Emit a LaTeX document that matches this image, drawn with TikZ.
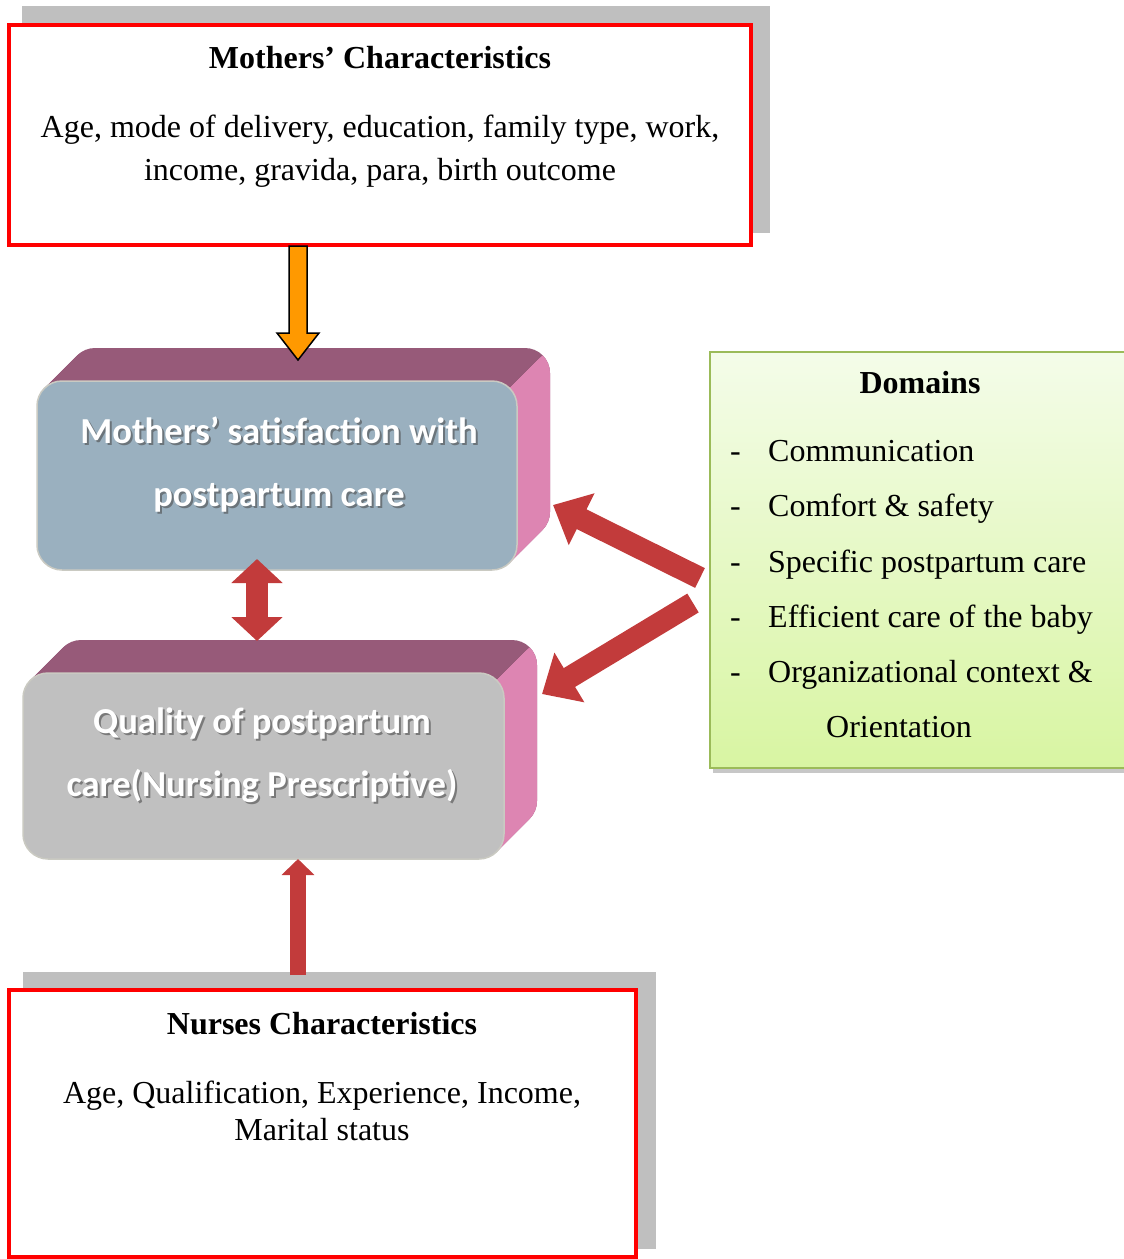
\documentclass[tikz,border=0pt]{standalone}
\usepackage{fontspec}
\setmainfont{Liberation Serif}
\newfontfamily\calib{Carlito}
\usetikzlibrary{arrows.meta,calc}
\definecolor{shadowgray}{HTML}{BFBFBF}
\definecolor{boxred}{HTML}{FF0000}
\definecolor{orangefill}{HTML}{FF9900}
\definecolor{topface}{HTML}{975A79}
\definecolor{sideface}{HTML}{DD85B2}
\definecolor{bluefront}{HTML}{9AB0BF}
\definecolor{grayfront}{HTML}{C0C0C0}
\definecolor{frontedge}{HTML}{CACAC2}
\definecolor{arrowred}{HTML}{C23B3B}
\definecolor{greentop}{HTML}{F4FCE9}
\definecolor{greenbot}{HTML}{D8F5A2}
\definecolor{greenedge}{HTML}{9BBB59}
\tikzset{
  redbox/.style={draw=boxred, line width=4pt, fill=white, inner sep=0pt},
  titlef/.style={inner sep=0pt, font=\fontsize{32}{38}\selectfont\bfseries},
  bodyf/.style={inner sep=0pt, align=center},
  frontbox/.style={draw=frontedge, line width=1.5pt, rounded corners=25pt, inner sep=0pt},
  whitetxt/.style={inner sep=0pt, align=center, text=white, font=\fontsize{36.6}{63}\selectfont\calib\bfseries},
  shadowtxt/.style={inner sep=0pt, align=center, text=black!70, opacity=0.6, font=\fontsize{36.6}{63}\selectfont\calib\bfseries},
  fatarrow/.style={line width=22pt, draw=arrowred},
  itemf/.style={inner sep=0pt, anchor=west, text height=22pt, text depth=7pt, font=\fontsize{32}{38}\selectfont},
}
\begin{document}
\begin{tikzpicture}[x=1pt,y=-1pt]
\useasboundingbox (0,0) rectangle (1124,1259);

% ---------- Mothers' characteristics box
\fill[shadowgray] (22,6) rectangle (770,233);
\node (mc) [redbox, minimum width=742pt, minimum height=220pt] at (380,135) {};
\node (mct) [titlef] at (380,58) {Mothers’ Characteristics};
\node (mcb) [bodyf, font=\fontsize{32}{43}\selectfont] at (380,151) {Age, mode of delivery, education, family type, work,\\income, gravida, para, birth outcome};

% ---------- 3D box 1
\foreach \i in {1,...,33} \fill[topface, rounded corners=25pt] (37+\i,381-\i) rectangle (517+\i,570-\i);
\begin{scope}
  \clip (480,418) -- (560,338) -- (640,338) -- (640,640) -- (480,640) -- cycle;
  \foreach \i in {1,...,33} \fill[sideface, rounded corners=25pt] (37+\i,381-\i) rectangle (517+\i,570-\i);
\end{scope}
\node (sat) [frontbox, fill=bluefront, minimum width=480pt, minimum height=189pt] at (277,475.5) {};
\node (sats) [shadowtxt] at (281,467) {Mothers’ satisfaction with\\postpartum care};
\node (satt) [whitetxt] at (279,465) {Mothers’ satisfaction with\\postpartum care};

% ---------- 3D box 2
\foreach \i in {1,...,33} \fill[topface, rounded corners=25pt] (23+\i,673-\i) rectangle (504+\i,859-\i);
\begin{scope}
  \clip (460,717) -- (540,637) -- (640,637) -- (640,940) -- (460,940) -- cycle;
  \foreach \i in {1,...,33} \fill[sideface, rounded corners=25pt] (23+\i,673-\i) rectangle (504+\i,859-\i);
\end{scope}
\node (qual) [frontbox, fill=grayfront, minimum width=481pt, minimum height=186pt] at (263.5,766) {};
\node (quals) [shadowtxt] at (264,757) {Quality of postpartum\\care(Nursing Prescriptive)};
\node (qualt) [whitetxt] at (262,755) {Quality of postpartum\\care(Nursing Prescriptive)};

% ---------- orange arrow
\coordinate (oa1) at (298,246);
\coordinate (oa2) at (298,360);
\draw[fill=orangefill, draw=black, line width=1.5pt, line join=miter]
  ($(oa1)+(-9,0)$) -- ($(oa2)+(-9,-27)$) -- ($(oa2)+(-21,-27)$) -- (oa2) --
  ($(oa2)+(21,-27)$) -- ($(oa2)+(9,-27)$) -- ($(oa1)+(9,0)$) -- cycle;

% ---------- double arrow
\coordinate (da1) at (257,559);
\coordinate (da2) at (257,641);
\draw[fatarrow, {Triangle[length=24pt,width=50pt]}-{Triangle[length=24pt,width=50pt]}] (da1) -- (da2);

% ---------- domains box
\fill[black!22] (713,357) rectangle (1130,773);
\node (dom) [draw=greenedge, line width=2pt, top color=greentop, bottom color=greenbot, minimum width=420pt, minimum height=416pt, inner sep=0pt] at (920,560) {};
\node (domt) [titlef] at (920,383) {Domains};
\foreach \y/\t [count=\k] in {454/Communication, 509/Comfort \& safety, 565/Specific postpartum care, 620/Efficient care of the baby, 675/Organizational context \&}{
  \node (dd\k) [itemf] at (730,\y) {-};
  \node (di\k) [itemf] at (768,\y) {\t};
}
\node (di6) [itemf] at (826,730) {Orientation};

% ---------- diagonal arrows
\coordinate (a1s) at (700,578);
\coordinate (a1e) at (553,505);
\coordinate (a2s) at (693,603);
\coordinate (a2e) at (542,694);
\draw[fatarrow, -{Triangle[length=32pt,width=56pt]}] (a1s) -- (a1e);
\draw[fatarrow, -{Triangle[length=32pt,width=56pt]}] (a2s) -- (a2e);

% ---------- nurses box
\fill[shadowgray] (23,972) rectangle (656,1249);
\node (nc) [redbox, minimum width=627pt, minimum height=267pt] at (322.5,1123.5) {};
\node (nct) [titlef] at (322,1024) {Nurses Characteristics};
\node (ncb) [bodyf, font=\fontsize{32}{37}\selectfont] at (322,1111) {Age, Qualification, Experience, Income,\\Marital status};

% ---------- up arrow
\coordinate (ua1) at (298,975);
\coordinate (ua2) at (298,859);
\draw[line width=16pt, draw=arrowred, -{Triangle[length=16pt,width=32pt]}] (ua1) -- (ua2);
\end{tikzpicture}
\end{document}
